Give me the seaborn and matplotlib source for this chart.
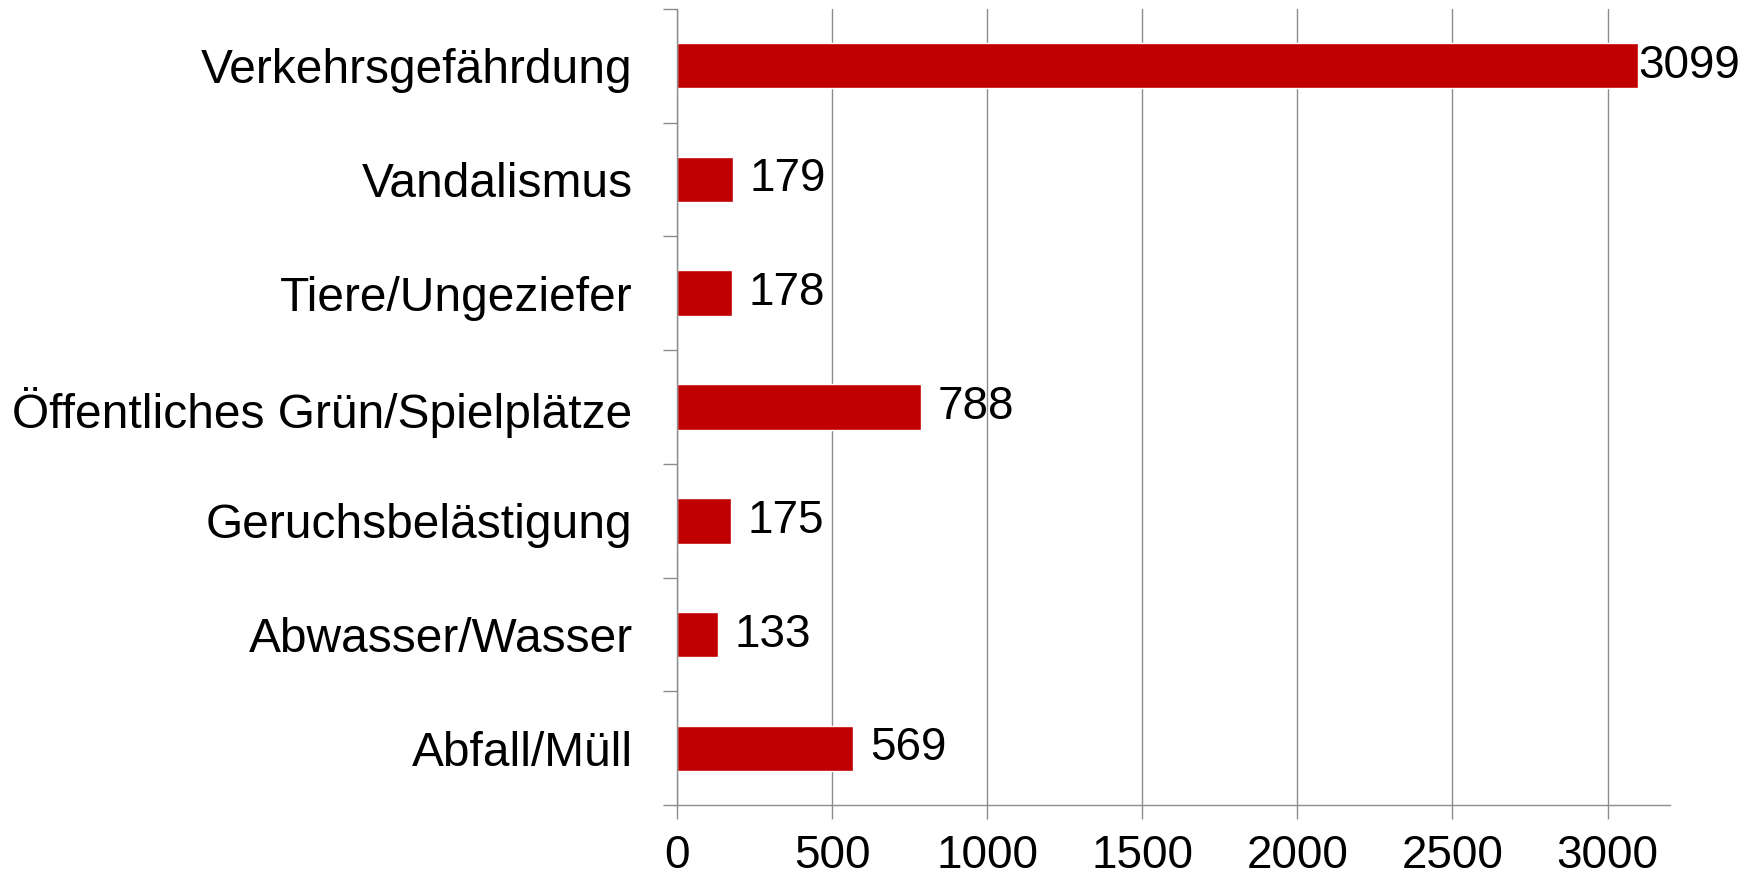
import pandas as pd
import seaborn as sns
import matplotlib.pyplot as plt
from matplotlib.ticker import FixedLocator

# Daten
kategorien = ["Verkehrsgefährdung", "Vandalismus", "Tiere/Ungeziefer",
              "Öffentliches Grün/Spielplätze", "Geruchsbelästigung",
              "Abwasser/Wasser", "Abfall/Müll"]
anzahl = [3099, 179, 178, 788, 175, 133, 569]
x_ticks = [0, 500, 1000, 1500, 2000, 2500, 3000]

df = pd.DataFrame({"kategorie": kategorien, "anzahl": anzahl})

sns.set_style("white")
plt.rcParams['font.family'] = ['Liberation Sans', 'DejaVu Sans']

fig = plt.figure(figsize=(17.63, 8.80), dpi=100)
ax = fig.add_axes([0.384, 0.085, 0.563, 0.905])

sns.barplot(data=df, y="kategorie", x="anzahl", orient="h", color="#C00000",
            width=0.4, saturation=1, ax=ax)

grau = "#8c8c8c"
ax.set_xlim(0, 3200)
ax.set_ylim(len(kategorien) - 0.5, -0.5)
ax.set_xticks(x_ticks)
ax.set_xticklabels([str(t) for t in x_ticks])
ax.grid(axis="x", color=grau, linewidth=1.0)
ax.set_axisbelow(True)

ax.yaxis.set_minor_locator(FixedLocator([i - 0.5 for i in range(len(kategorien) + 1)]))
ax.tick_params(axis="y", which="major", length=0, pad=32, labelsize=34.5,
               labelcolor="black")
ax.tick_params(axis="y", which="minor", length=10, width=1.0, color=grau, left=True)
ax.tick_params(axis="x", which="major", length=10, width=1.0, color=grau,
               bottom=True, pad=11, labelsize=33, labelcolor="black")

for s in ["top", "right"]:
    ax.spines[s].set_visible(False)
for s in ["left", "bottom"]:
    ax.spines[s].set_color(grau)
    ax.spines[s].set_linewidth(1.0)

ax.set_xlabel("")
ax.set_ylabel("")

# Beschriftung: der lange Balken hat keinen Abstand
kurz = [str(v) if v < 3000 else "" for v in anzahl]
lang = [str(v) if v >= 3000 else "" for v in anzahl]
ax.bar_label(ax.containers[0], labels=kurz, padding=12, fontsize=33, color="black")
ax.bar_label(ax.containers[0], labels=lang, padding=0, fontsize=33, color="black")

fig.savefig("out.png", dpi=100)
